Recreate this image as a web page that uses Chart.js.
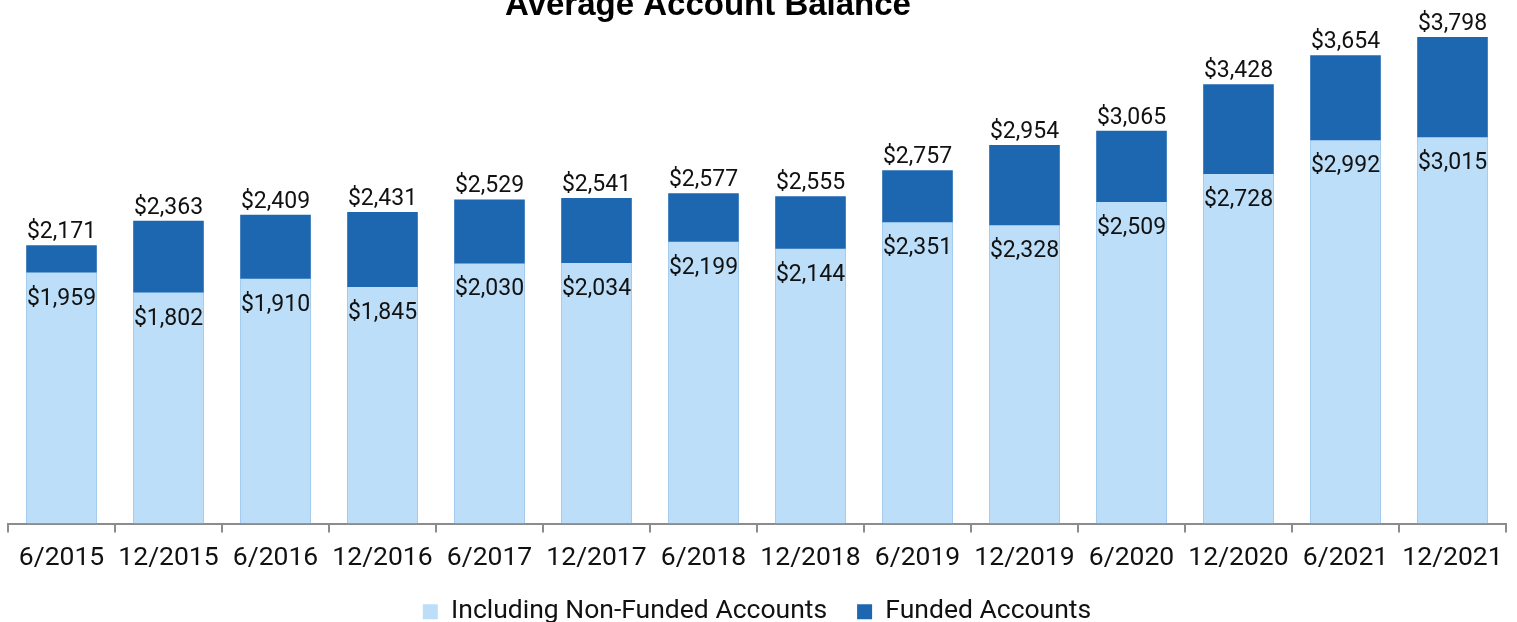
<!DOCTYPE html>
<html>
<head>
<meta charset="utf-8">
<script src="https://cdn.jsdelivr.net/npm/chart.js@4/dist/chart.umd.min.js"></script>
<style>
  html, body { margin: 0; padding: 0; background: #fff; }
  #wrap { position: relative; width: 1517px; height: 622px; overflow: hidden; }
  #chart { position: absolute; left: 0; top: 0; }
</style>
</head>
<body>
<div id="wrap">
  <canvas id="chart" width="1517" height="635"></canvas>
</div>
<script>
// Data
const periods = ['6/2015', '12/2015', '6/2016', '12/2016', '6/2017', '12/2017', '6/2018',
                 '12/2018', '6/2019', '12/2019', '6/2020', '12/2020', '6/2021', '12/2021'];
const includingNonFunded = [1959, 1802, 1910, 1845, 2030, 2034, 2199, 2144, 2351, 2328, 2509, 2728, 2992, 3015];
const fundedAccounts = [2171, 2363, 2409, 2431, 2529, 2541, 2577, 2555, 2757, 2954, 3065, 3428, 3654, 3798];
const chartTitle = 'Average Account Balance';

const lightBlue = '#BCDEF8';
const darkBlue = '#1D67B0';

function money(v) {
    return '$' + v.toLocaleString('en-US');
}

// Title sits off-centre and is cut by the top edge in the original, so draw it by hand
const titleText = {
    id: 'titleText',
    afterDraw(chart) {
        const ctx = chart.ctx;
        ctx.save();
        ctx.font = 'bold 33px "Liberation Sans"';
        ctx.fillStyle = '#000';
        ctx.textAlign = 'center';
        ctx.textBaseline = 'alphabetic';
        ctx.fillText(chartTitle, 708, 15);
        ctx.restore();
    }
};

// Draws the value labels: funded above the bar, non-funded inside the bar
const valueLabels = {
    id: 'valueLabels',
    afterDatasetsDraw(chart) {
        const ctx = chart.ctx;
        ctx.save();
        ctx.font = '23px Roboto';
        ctx.fillStyle = '#111';
        ctx.textAlign = 'center';
        ctx.textBaseline = 'alphabetic';
        chart.data.datasets.forEach((ds, i) => {
            const meta = chart.getDatasetMeta(i);
            meta.data.forEach((bar, j) => {
                const y = i === 0 ? bar.y + 32 : bar.y - 7;
                ctx.fillText(money(ds.data[j]), bar.x, y);
            });
        });
        ctx.restore();
    }
};

const ctx = document.getElementById('chart').getContext('2d');
new Chart(ctx, {
    type: 'bar',
    data: {
        labels: periods,
        datasets: [
            {
                label: 'Including Non-Funded Accounts',
                data: includingNonFunded,
                backgroundColor: lightBlue,
                order: 0
            },
            {
                label: 'Funded Accounts',
                data: fundedAccounts,
                backgroundColor: darkBlue,
                order: 1
            }
        ]
    },
    options: {
        responsive: false,
        animation: false,
        layout: {
            padding: { left: 8, right: 11, top: 11, bottom: 0 }
        },
        datasets: {
            bar: {
                grouped: false,
                categoryPercentage: 1,
                barPercentage: 0.66
            }
        },
        scales: {
            x: {
                grid: {
                    display: true,
                    drawOnChartArea: false,
                    drawTicks: true,
                    tickLength: 9,
                    color: '#8c8c8c',
                    lineWidth: 2
                },
                border: { display: true, color: '#8c8c8c', width: 2 },
                ticks: {
                    color: '#111',
                    font: { family: 'Roboto', size: 26.5 },
                    padding: 10,
                    maxRotation: 0,
                    autoSkip: false
                },
                afterFit(scale) {
                    scale.height = 45;
                }
            },
            y: {
                display: false,
                min: 0,
                max: 4000
            }
        },
        plugins: {
            title: { display: false },
            legend: {
                display: true,
                position: 'bottom',
                labels: {
                    color: '#111',
                    font: { family: 'Roboto', size: 26.5 },
                    boxWidth: 15,
                    boxHeight: 15,
                    padding: 30
                }
            },
            tooltip: { enabled: false }
        }
    },
    plugins: [valueLabels, titleText]
});
</script>
</body>
</html>
